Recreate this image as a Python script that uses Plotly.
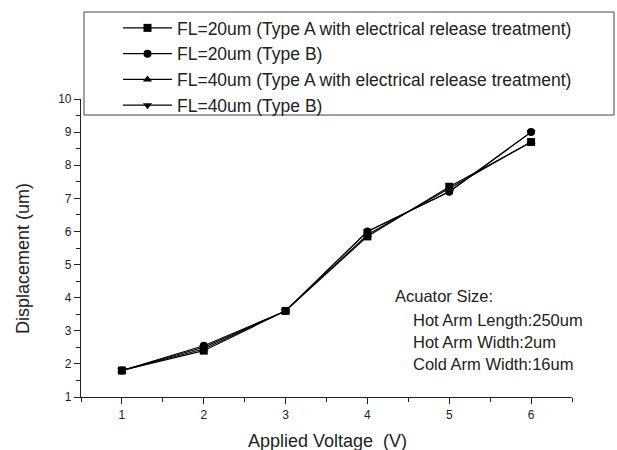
import plotly.graph_objects as go

voltage = [1, 2, 3, 4, 5, 6]
fl20_typeA = [1.8, 2.4, 3.6, 5.85, 7.35, 8.7]
fl20_typeB = [1.8, 2.55, 3.6, 6.0, 7.2, 9.0]
fl40_typeA = [1.8, 2.45, 3.6, 5.9, 7.3, 8.7]
fl40_typeB = [1.8, 2.5, 3.6, 6.0, 7.2, 9.0]

names = [
    "FL=20um (Type A with electrical release treatment)",
    "FL=20um (Type B)",
    "FL=40um (Type A with electrical release treatment)",
    "FL=40um (Type B)",
]
symbols = ["square", "circle", "triangle-up", "triangle-down"]
series = [fl20_typeA, fl20_typeB, fl40_typeA, fl40_typeB]

FONT = "Liberation Sans, Arial, sans-serif"
INK = "#222"

L, R, T, B = 81, 572, 99, 397
W, H = R - L, B - T


def px(x):
    return (x - L) / W


def py(y):
    return (B - y) / H


fig = go.Figure()
for nm, sym, ys in zip(names, symbols, series):
    fig.add_trace(go.Scatter(
        x=voltage, y=ys, name=nm, mode="lines+markers",
        line=dict(color="black", width=1.1),
        marker=dict(symbol=sym, size=8, color="black"),
    ))

fig.update_layout(
    width=617, height=450,
    margin=dict(l=L, r=617 - R, t=T, b=450 - B, autoexpand=False),
    paper_bgcolor="white", plot_bgcolor="white",
    font=dict(family=FONT, color=INK, size=12),
    showlegend=True,
    legend=dict(
        x=px(118), y=py(10), xanchor="left", yanchor="top",
        bgcolor="rgba(0,0,0,0)", borderwidth=0,
        font=dict(size=17.5, family=FONT, color=INK),
        tracegroupgap=0, itemwidth=49,
    ),
    xaxis=dict(
        range=[0.5, 6.5], tickvals=[1, 2, 3, 4, 5, 6],
        ticks="outside", ticklen=6, tickwidth=1, tickcolor=INK,
        showline=True, linecolor=INK, linewidth=1.2,
        showgrid=False, zeroline=False, automargin=False,
        minor=dict(ticks="outside", ticklen=4, dtick=0.5, tick0=0.5, tickcolor=INK),
        tickfont=dict(size=12),
    ),
    yaxis=dict(
        range=[1, 10], tickvals=list(range(1, 11)),
        ticks="outside", ticklen=6, tickwidth=1, tickcolor=INK,
        showline=True, linecolor=INK, linewidth=1.2,
        showgrid=False, zeroline=False, automargin=False,
        minor=dict(ticks="outside", ticklen=4, dtick=0.5, tick0=0.5, tickcolor=INK),
        tickfont=dict(size=12),
    ),
)

# axis titles placed to match the reference
fig.add_annotation(
    text="Displacement (um)", xref="paper", yref="paper",
    x=px(23), y=py(259), xanchor="center", yanchor="middle",
    textangle=-90, showarrow=False,
    font=dict(size=18, family=FONT, color=INK),
)
fig.add_annotation(
    text="Applied Voltage  (V)", xref="paper", yref="paper",
    x=px(327), y=py(441), xanchor="center", yanchor="middle",
    showarrow=False,
    font=dict(size=18, family=FONT, color=INK),
)

# legend frame
fig.add_shape(type="rect", xref="paper", yref="paper",
              x0=px(84), x1=px(614), y0=py(115), y1=py(12),
              line=dict(color="#444", width=1), fillcolor="rgba(0,0,0,0)")

notes = [
    ("Acuator Size:", 393, 296),
    ("Hot Arm Length:250um", 411, 320),
    ("Hot Arm Width:2um", 411, 342),
    ("Cold Arm Width:16um", 411, 364),
]
for txt, x0, y0 in notes:
    fig.add_annotation(
        text=txt, xref="paper", yref="paper",
        x=px(x0), y=py(y0),
        xanchor="left", yanchor="middle", showarrow=False,
        font=dict(size=16.5, family=FONT, color=INK),
    )

fig.write_html("out.html")
